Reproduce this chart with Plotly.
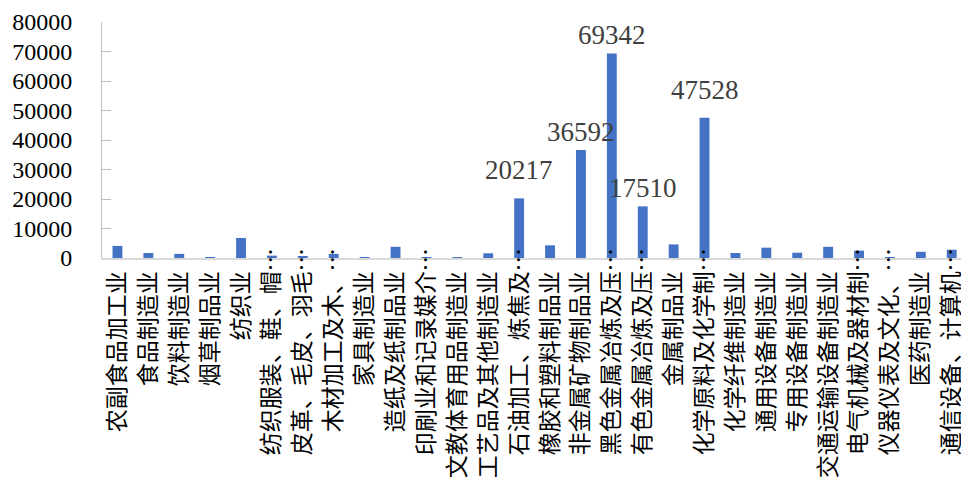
import plotly.graph_objects as go

categories = [
    "农副食品加工业", "食品制造业", "饮料制造业", "烟草制品业", "纺织业",
    "纺织服装、鞋、帽…", "皮革、毛皮、羽毛…", "木材加工及木、…", "家具制造业",
    "造纸及纸制品业", "印刷业和记录媒介…", "文教体育用品制造业", "工艺品及其他制造业",
    "石油加工、炼焦及…", "橡胶和塑料制品业", "非金属矿物制品业", "黑色金属冶炼及压…",
    "有色金属冶炼及压…", "金属制品业", "化学原料及化学制…", "化学纤维制造业",
    "通用设备制造业", "专用设备制造业", "交通运输设备制造业", "电气机械及器材制…",
    "仪器仪表及文化、…", "医药制造业", "通信设备、计算机…",
]
values = [
    4100, 1700, 1400, 100, 6800,
    800, 400, 1400, 200,
    3800, 300, 300, 1600,
    20217, 4300, 36592, 69342,
    17510, 4600, 47528, 1700,
    3500, 1800, 3800, 2500,
    300, 2100, 2800,
]
labeled = [
    "石油加工、炼焦及…", "非金属矿物制品业", "黑色金属冶炼及压…",
    "有色金属冶炼及压…", "化学原料及化学制…",
]
label_lift = [11, 1, 1, 1, 11]  # extra px above bar top for each data label
y_ticks = [0, 10000, 20000, 30000, 40000, 50000, 60000, 70000, 80000]

SERIF = "Liberation Serif"

# Non-truncated labels get a trailing full-width space so their characters
# line up with those of truncated labels (whose ellipsis sticks out).
tick_text = [c if c.endswith("…") else c + "\u3000" for c in categories]
xs = list(range(len(categories)))

fig = go.Figure(
    go.Bar(
        x=xs,
        y=values,
        marker=dict(color="#4472C4", line=dict(width=0)),
        hovertext=categories,
    )
)

for name, lift in zip(labeled, label_lift):
    i = categories.index(name)
    fig.add_annotation(
        x=xs[i], y=values[i], xref="x", yref="y",
        text=str(values[i]), showarrow=False,
        xanchor="center", yanchor="bottom", yshift=lift,
        font=dict(family=SERIF, size=27, color="#404040"),
    )

fig.update_layout(
    template="none",
    width=961,
    height=484,
    margin=dict(l=102, r=0, t=22, b=226, pad=0),
    paper_bgcolor="white",
    plot_bgcolor="white",
    bargap=0.68,
    showlegend=False,
)

fig.update_xaxes(
    automargin=False,
    range=[-0.5, 27.3],
    tickmode="array",
    tickvals=xs,
    ticktext=tick_text,
    tickangle=-90,
    tickfont=dict(family="Noto Sans CJK SC", size=23, color="#000000"),
    showline=True,
    linecolor="#D9D9D9",
    linewidth=2,
    showgrid=False,
    zeroline=False,
    ticks="",
    ticklabelstandoff=-21,
    ticklabeloverflow="allow",
)

fig.update_yaxes(
    automargin=False,
    range=[0, 80000],
    tickmode="array",
    tickvals=y_ticks,
    ticktext=[str(t) for t in y_ticks],
    tickfont=dict(family=SERIF, size=24, color="#000000"),
    showline=True,
    linecolor="#BFBFBF",
    linewidth=1,
    ticks="inside",
    ticklen=9,
    tickcolor="#BFBFBF",
    showgrid=False,
    zeroline=False,
    ticklabelstandoff=24,
)

fig.write_html("out.html")
